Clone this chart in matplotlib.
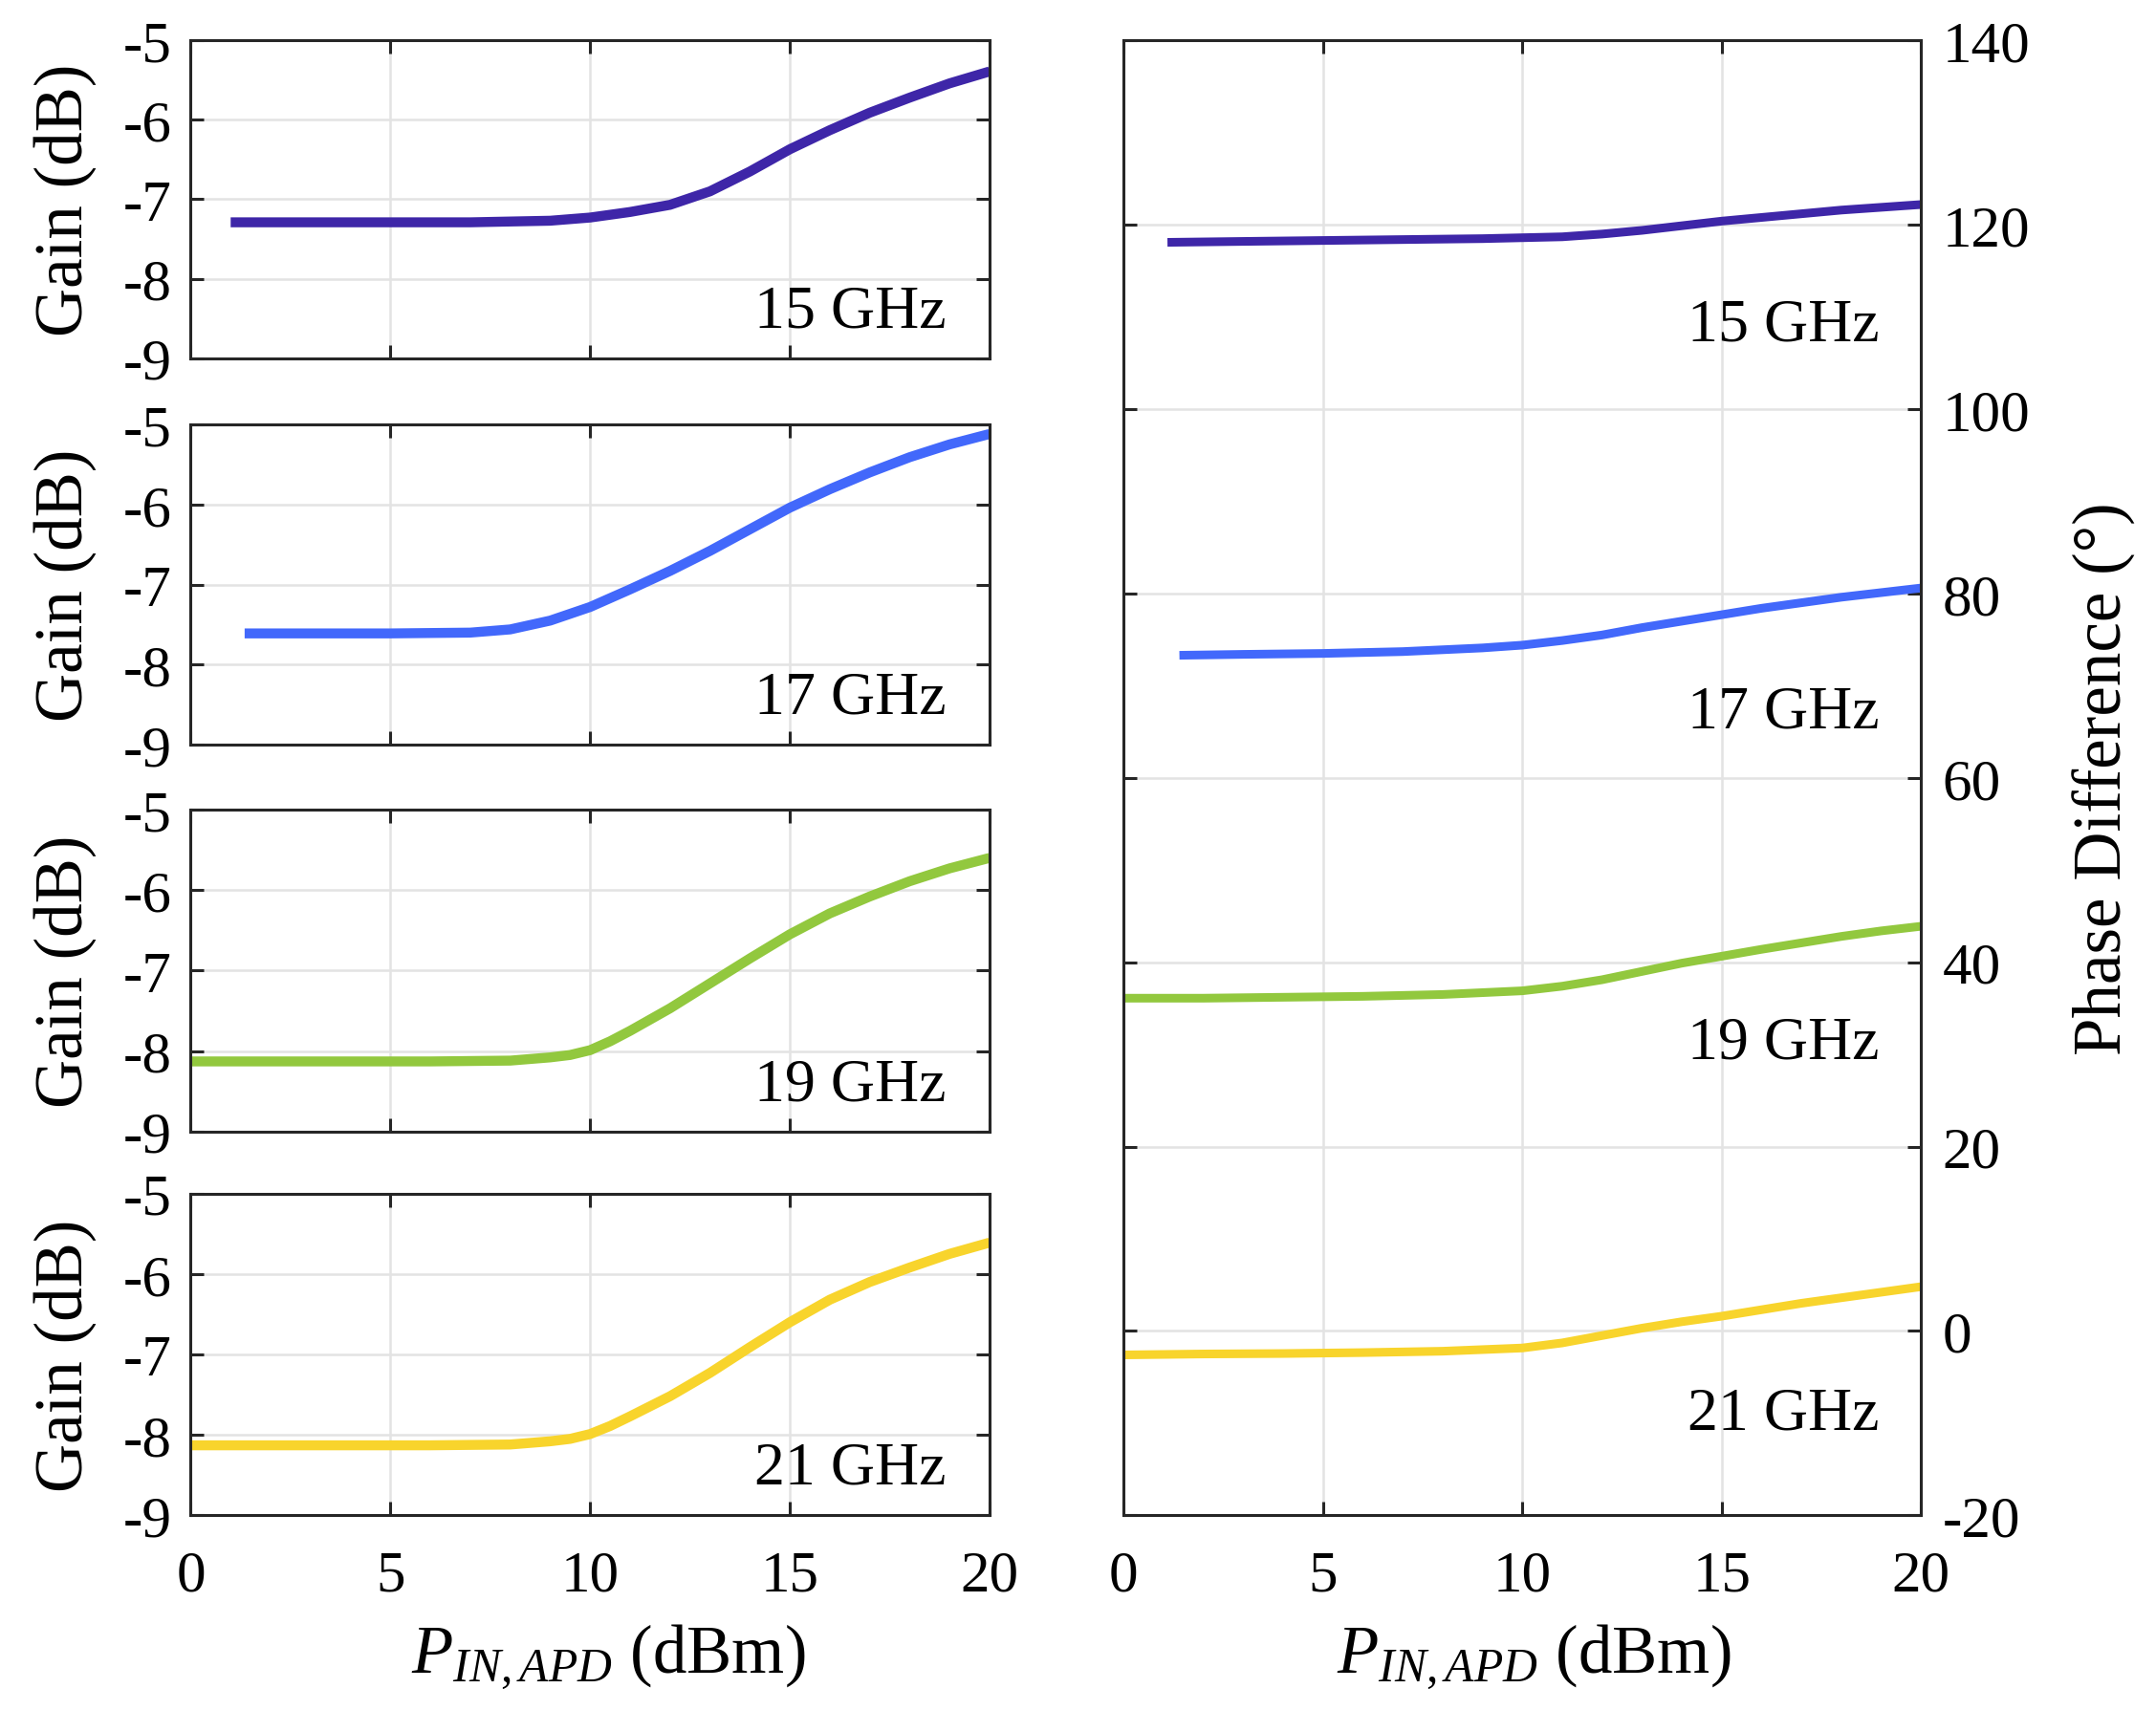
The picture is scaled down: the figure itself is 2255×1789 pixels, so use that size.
import matplotlib
matplotlib.use("Agg")
import matplotlib.pyplot as plt

plt.rcParams['font.family'] = ['Liberation Serif', 'DejaVu Serif']
plt.rcParams['mathtext.fontset'] = 'custom'
plt.rcParams['mathtext.rm'] = 'Liberation Serif'
plt.rcParams['mathtext.it'] = 'Liberation Serif:italic'

# ---------------- data ----------------
freq_labels = ['15 GHz', '17 GHz', '19 GHz', '21 GHz']
colors = ['#3e26a8', '#4268fb', '#92c83e', '#f8d42c']

x_g15 = [1.0, 3, 5, 7, 9, 10, 11, 12, 13, 14, 15, 16, 17, 18, 19, 20]
g15 = [-7.29, -7.29, -7.29, -7.29, -7.27, -7.23, -7.16, -7.07, -6.90, -6.65, -6.37, -6.13, -5.91, -5.72, -5.54, -5.39]
x_g17 = [1.35, 3, 5, 7, 8, 9, 10, 11, 12, 13, 14, 15, 16, 17, 18, 19, 20]
g17 = [-7.61, -7.61, -7.61, -7.60, -7.56, -7.45, -7.28, -7.06, -6.83, -6.58, -6.31, -6.04, -5.81, -5.60, -5.41, -5.25, -5.12]
x_g19 = [0, 2, 4, 6, 8, 9, 9.5, 10, 10.5, 11, 12, 13, 14, 15, 16, 17, 18, 19, 20]
g19 = [-8.13, -8.13, -8.13, -8.13, -8.12, -8.08, -8.05, -7.99, -7.88, -7.75, -7.47, -7.16, -6.85, -6.55, -6.29, -6.08, -5.89, -5.73, -5.60]
x_g21 = [0, 2, 4, 6, 8, 9, 9.5, 10, 10.5, 11, 12, 13, 14, 15, 16, 17, 18, 19, 20]
g21 = [-8.13, -8.13, -8.13, -8.13, -8.12, -8.08, -8.05, -7.99, -7.89, -7.77, -7.52, -7.23, -6.91, -6.60, -6.32, -6.10, -5.92, -5.75, -5.61]

x_p15 = [1.1, 3, 5, 7, 9, 10, 11, 12, 13, 14, 15, 16, 17, 18, 19, 20]
p15 = [118.1, 118.2, 118.3, 118.4, 118.5, 118.6, 118.7, 119.0, 119.4, 119.9, 120.4, 120.8, 121.2, 121.6, 121.9, 122.2]
x_p17 = [1.4, 3, 5, 7, 9, 10, 11, 12, 13, 14, 15, 16, 17, 18, 19, 20]
p17 = [73.3, 73.4, 73.5, 73.7, 74.1, 74.4, 74.9, 75.5, 76.3, 77.0, 77.7, 78.4, 79.0, 79.6, 80.1, 80.6]
x_p19 = [0, 2, 4, 6, 8, 10, 11, 12, 13, 14, 15, 16, 17, 18, 19, 20]
p19 = [36.1, 36.1, 36.2, 36.3, 36.5, 36.9, 37.4, 38.1, 39.0, 39.9, 40.65, 41.4, 42.1, 42.8, 43.4, 43.9]
x_p21 = [0, 2, 4, 6, 8, 10, 11, 12, 13, 14, 15, 16, 17, 18, 19, 20]
p21 = [-2.6, -2.5, -2.45, -2.35, -2.2, -1.85, -1.3, -0.5, 0.3, 1.0, 1.6, 2.3, 3.0, 3.6, 4.2, 4.8]

x_ticks = [0, 5, 10, 15, 20]
gain_ticks = [-9, -8, -7, -6, -5]
phase_ticks = [-20, 0, 20, 40, 60, 80, 100, 120, 140]
phase_label_y = [107.5, 65.5, 29.6, -10.6]

gain_x = [x_g15, x_g17, x_g19, x_g21]
gain_y = [g15, g17, g19, g21]
phase_x = [x_p15, x_p17, x_p19, x_p21]
phase_y = [p15, p17, p19, p21]

# ---------------- layout ----------------
W, H = 1560.0, 1239.0
fig = plt.figure(figsize=(22.55, 17.9), dpi=100)

TICK_FS = 44
LBL_FS = 51
ANN_FS = 46
SPINE = '#262626'
GRID = '#e3e3e3'

def style(ax):
    for s in ax.spines.values():
        s.set_color(SPINE)
        s.set_linewidth(2.2)
    ax.grid(True, color=GRID, linewidth=1.8)
    ax.set_axisbelow(True)
    ax.tick_params(direction='in', length=10, width=2.2, color=SPINE,
                   top=True, right=True, left=True, bottom=True,
                   labelsize=TICK_FS)
    ax.tick_params(axis='x', pad=26)

def rect(x0, x1, y0, y1):
    return [x0 / W, 1 - y1 / H, (x1 - x0) / W, (y1 - y0) / H]

panels = [(30, 260), (308, 540), (587, 820), (865, 1098)]
for i, (t, b) in enumerate(panels):
    ax = fig.add_axes(rect(138, 716, t, b))
    style(ax)
    ax.plot(gain_x[i], gain_y[i], color=colors[i], linewidth=7.5,
            solid_capstyle='butt', solid_joinstyle='round')
    ax.set_xlim(0, 20)
    ax.set_ylim(-9, -5)
    ax.set_xticks(x_ticks)
    ax.set_yticks(gain_ticks)
    ax.set_yticklabels([str(v) for v in gain_ticks])
    ax.tick_params(axis='y', pad=14)
    if i < 3:
        ax.tick_params(axis='x', labelbottom=False)
    ax.set_ylabel('Gain (dB)', fontsize=LBL_FS)
    ax.yaxis.set_label_coords(-0.118, 0.5)
    ax.text(0.946, 0.1, freq_labels[i], transform=ax.transAxes,
            ha='right', va='baseline', fontsize=ANN_FS)

axr = fig.add_axes(rect(813, 1390, 30, 1098))
style(axr)
for i in range(4):
    axr.plot(phase_x[i], phase_y[i], color=colors[i], linewidth=6.5,
             solid_capstyle='butt', solid_joinstyle='round')
    axr.text(18.96, phase_label_y[i], freq_labels[i], ha='right', va='baseline',
             fontsize=ANN_FS)
axr.set_xlim(0, 20)
axr.set_ylim(-20, 140)
axr.set_xticks(x_ticks)
axr.set_yticks(phase_ticks)
axr.set_yticklabels([str(v) for v in phase_ticks])
axr.tick_params(axis='y', labelleft=False, labelright=True, pad=16)
axr.yaxis.set_label_position('right')
axr.set_ylabel('Phase Difference (°)', fontsize=LBL_FS, rotation=90)
axr.yaxis.set_label_coords(1.19, 0.5)

fig.text(440 / W, 1 - 1200 / H, r'$P_{IN,APD}$ (dBm)', ha='center', va='center', fontsize=LBL_FS)
fig.text(1110 / W, 1 - 1200 / H, r'$P_{IN,APD}$ (dBm)', ha='center', va='center', fontsize=LBL_FS)

fig.savefig('out.png', dpi=100, facecolor='white')
